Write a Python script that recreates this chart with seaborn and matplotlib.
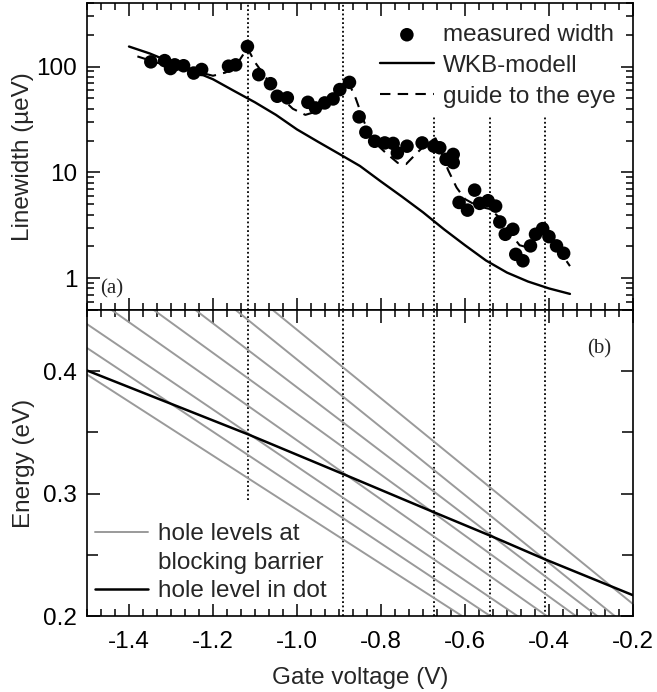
import numpy as np
import pandas as pd
import matplotlib
matplotlib.use("Agg")
import matplotlib.pyplot as plt
import seaborn as sns
from matplotlib.ticker import MultipleLocator, FixedLocator, FuncFormatter, NullFormatter, LogLocator
from matplotlib.lines import Line2D

# ---------------- data ----------------
# (a) measured linewidth (µeV) vs gate voltage (V)
meas_V = [-1.348, -1.315, -1.301, -1.291, -1.270, -1.246, -1.227, -1.163, -1.146, -1.118,
          -1.091, -1.063, -1.047, -1.023, -0.974, -0.956, -0.934, -0.914, -0.898, -0.875,
          -0.852, -0.836, -0.815, -0.791, -0.771, -0.761, -0.738, -0.702, -0.674, -0.660,
          -0.645, -0.628, -0.628, -0.614, -0.594, -0.577, -0.565, -0.545, -0.527, -0.517,
          -0.504, -0.486, -0.479, -0.462, -0.444, -0.432, -0.415, -0.400, -0.382, -0.365]
meas_W = [111, 114, 96, 104, 102, 87, 94, 101, 104, 155,
          84, 69, 52.5, 50.7, 46, 40.7, 45.4, 49.5, 60.7, 71,
          33.5, 24, 19.7, 19, 18.8, 15.3, 17.7, 19, 17.7, 17.1,
          13.3, 14.8, 12.4, 5.2, 4.4, 6.8, 5.1, 5.4, 4.8, 3.4,
          2.6, 2.9, 1.68, 1.46, 2.02, 2.6, 2.94, 2.47, 2.02, 1.72]

# WKB model curve
wkb_V = [-1.40, -1.35, -1.30, -1.25, -1.20, -1.15, -1.10, -1.05, -1.00, -0.95, -0.90,
         -0.85, -0.80, -0.75, -0.70, -0.65, -0.60, -0.55, -0.50, -0.45, -0.40, -0.35]
wkb_W = [155, 133, 110, 92, 76, 59, 46, 35, 25.5, 19.5, 15,
         11.5, 8.2, 5.9, 4.2, 2.9, 2.05, 1.47, 1.13, 0.93, 0.80, 0.71]

# guide to the eye
guide_V = [-1.38, -1.33, -1.28, -1.24, -1.20, -1.17, -1.14, -1.118, -1.10, -1.07, -1.04,
           -1.01, -0.98, -0.95, -0.92, -0.895, -0.875, -0.86, -0.84, -0.82, -0.79, -0.76,
           -0.74, -0.72, -0.69, -0.67, -0.655, -0.64, -0.62, -0.60, -0.57, -0.54, -0.51,
           -0.49, -0.47, -0.45, -0.42, -0.40, -0.37, -0.35]
guide_W = [125, 108, 100, 90, 82, 88, 110, 150, 110, 75, 52,
           40, 35, 38, 46, 58, 68, 50, 30, 20, 15.5, 12.3,
           12, 14.5, 19, 21, 15, 10.5, 7.2, 5.6, 4.8, 4.5, 3.5,
           2.6, 2.05, 1.95, 2.6, 2.5, 1.7, 1.3]

# resonance positions (dotted lines) and their extents
res_V = [-1.117, -0.890, -0.674, -0.541, -0.410]
res_top_hi = [400, 400, 34, 34, 34]          # upper end in panel (a), µeV
res_bot_lo = [0.295, 0.2, 0.2, 0.2, 0.2]     # lower end in panel (b), eV

# (b) hole levels at blocking barrier: energy at V=-1.5 and V=-0.2
gray_V = [-1.5, -0.2]
gray_E_start = [0.3973, 0.419, 0.4385, 0.4642, 0.4896, 0.5175, 0.5481, 0.5739]
gray_E_end = [0.1101, 0.1225, 0.136, 0.1505, 0.1662, 0.1778, 0.188, 0.2098]

# hole level in dot
dot_V = [-1.5, -1.117, -0.89, -0.674, -0.541, -0.41, -0.2]
dot_E = [0.4006, 0.3485, 0.316, 0.2848, 0.2658, 0.2464, 0.217]

# ---------------- style ----------------
sns.set_style("ticks")
plt.rcParams["font.family"] = ["Liberation Sans", "DejaVu Sans"]
plt.rcParams["axes.unicode_minus"] = False
plt.rcParams["axes.linewidth"] = 1.2
FS = 17.5

fig = plt.figure(figsize=(6.57, 6.92), dpi=100)
ax1 = fig.add_axes([0.1324, 0.552, 0.831, 0.4437])
ax2 = fig.add_axes([0.1324, 0.1098, 0.831, 0.4422], sharex=ax1)

# ---------------- panel (a) ----------------
ax1.set_yscale("log")
ax1.vlines(res_V, 0.5, res_top_hi, colors="black", linestyles=(0, (1, 1.4)), lw=1.3, zorder=1)
sns.lineplot(x=wkb_V, y=wkb_W, ax=ax1, color="black", lw=1.7, label="WKB-modell", zorder=2)
sns.lineplot(x=guide_V, y=guide_W, ax=ax1, color="black", lw=1.5,
             linestyle=(0, (5, 3.5)), label="guide to the eye", zorder=2)
sns.scatterplot(x=meas_V, y=meas_W, ax=ax1, color="black", s=95, edgecolor="none",
                label="measured width", zorder=3)
ax1.set_ylim(0.5, 400)
ax1.set_xlim(-1.5, -0.2)
ax1.yaxis.set_major_locator(FixedLocator([1, 10, 100]))
ax1.yaxis.set_major_formatter(FuncFormatter(lambda v, p: f"{v:g}"))
ax1.yaxis.set_minor_locator(LogLocator(base=10, subs=np.arange(2, 10)))
ax1.yaxis.set_minor_formatter(NullFormatter())
ax1.set_ylabel("Linewidth (µeV)", fontsize=FS, labelpad=2)
ax1.set_xlabel("")

h, l = ax1.get_legend_handles_labels()
order = [l.index("measured width"), l.index("WKB-modell"), l.index("guide to the eye")]
leg = ax1.legend([h[i] for i in order], [l[i] for i in order], loc="upper right",
                 bbox_to_anchor=(0.978, 0.947), frameon=False, fontsize=FS,
                 handlelength=2.2, handletextpad=0.4, labelspacing=0.36,
                 borderaxespad=0.0, borderpad=0.2)
ax1.text(0.024, 0.07, "(a)", transform=ax1.transAxes, fontsize=15,
         family="Liberation Serif", ha="left", va="center")

# ---------------- panel (b) ----------------
for i, (e0, e1) in enumerate(zip(gray_E_start, gray_E_end)):
    sns.lineplot(x=gray_V, y=[e0, e1], ax=ax2, color="#9a9a9a", lw=1.4,
                 label="hole levels at" if i == 0 else None, zorder=2)
sns.lineplot(x=dot_V, y=dot_E, ax=ax2, color="black", lw=1.8,
             label="hole level in dot", zorder=3)
ax2.vlines(res_V, res_bot_lo, 0.45, colors="black", linestyles=(0, (1, 1.4)), lw=1.3, zorder=1)
ax2.set_ylim(0.2, 0.45)
ax2.set_xlim(-1.5, -0.2)
ax2.yaxis.set_major_locator(FixedLocator([0.2, 0.3, 0.4]))
ax2.yaxis.set_major_formatter(FuncFormatter(lambda v, p: f"{v:.1f}"))
ax2.yaxis.set_minor_locator(FixedLocator([0.25, 0.35, 0.45]))
ax2.set_ylabel("Energy (eV)", fontsize=FS, labelpad=6)
ax2.set_xlabel("Gate voltage (V)", fontsize=FS, labelpad=10)
ax2.xaxis.set_major_locator(MultipleLocator(0.2))
ax2.xaxis.set_minor_locator(MultipleLocator(0.2 / 6))
ax2.xaxis.set_major_formatter(FuncFormatter(lambda v, p: f"{v:.1f}"))

h2, l2 = ax2.get_legend_handles_labels()
gh = h2[l2.index("hole levels at")]
bh = h2[l2.index("hole level in dot")]
blank = Line2D([], [], color="none")
ax2.legend([gh, blank, bh], ["hole levels at", "blocking barrier", "hole level in dot"],
           loc="lower left", bbox_to_anchor=(0.005, 0.029), frameon=False, fontsize=FS,
           handlelength=2.2, handletextpad=0.4, labelspacing=0.27,
           borderaxespad=0.0, borderpad=0.2)
ax2.text(0.961, 0.873, "(b)", transform=ax2.transAxes, fontsize=15,
         family="Liberation Serif", ha="right", va="center")

for ax in (ax1, ax2):
    ax.tick_params(which="both", direction="in", top=True, right=True,
                   labelsize=FS, width=1.1, colors="black")
    ax.tick_params(which="major", length=9, pad=7)
    ax.tick_params(which="minor", length=5)
    for s in ax.spines.values():
        s.set_color("black")
        s.set_linewidth(1.2)
ax2.tick_params(axis="y", which="minor", length=8)
ax2.tick_params(axis="x", which="major", pad=11)
ax1.tick_params(labelbottom=False)
ax1.xaxis.set_minor_locator(MultipleLocator(0.2 / 6))

fig.savefig("out.png", dpi=100)
